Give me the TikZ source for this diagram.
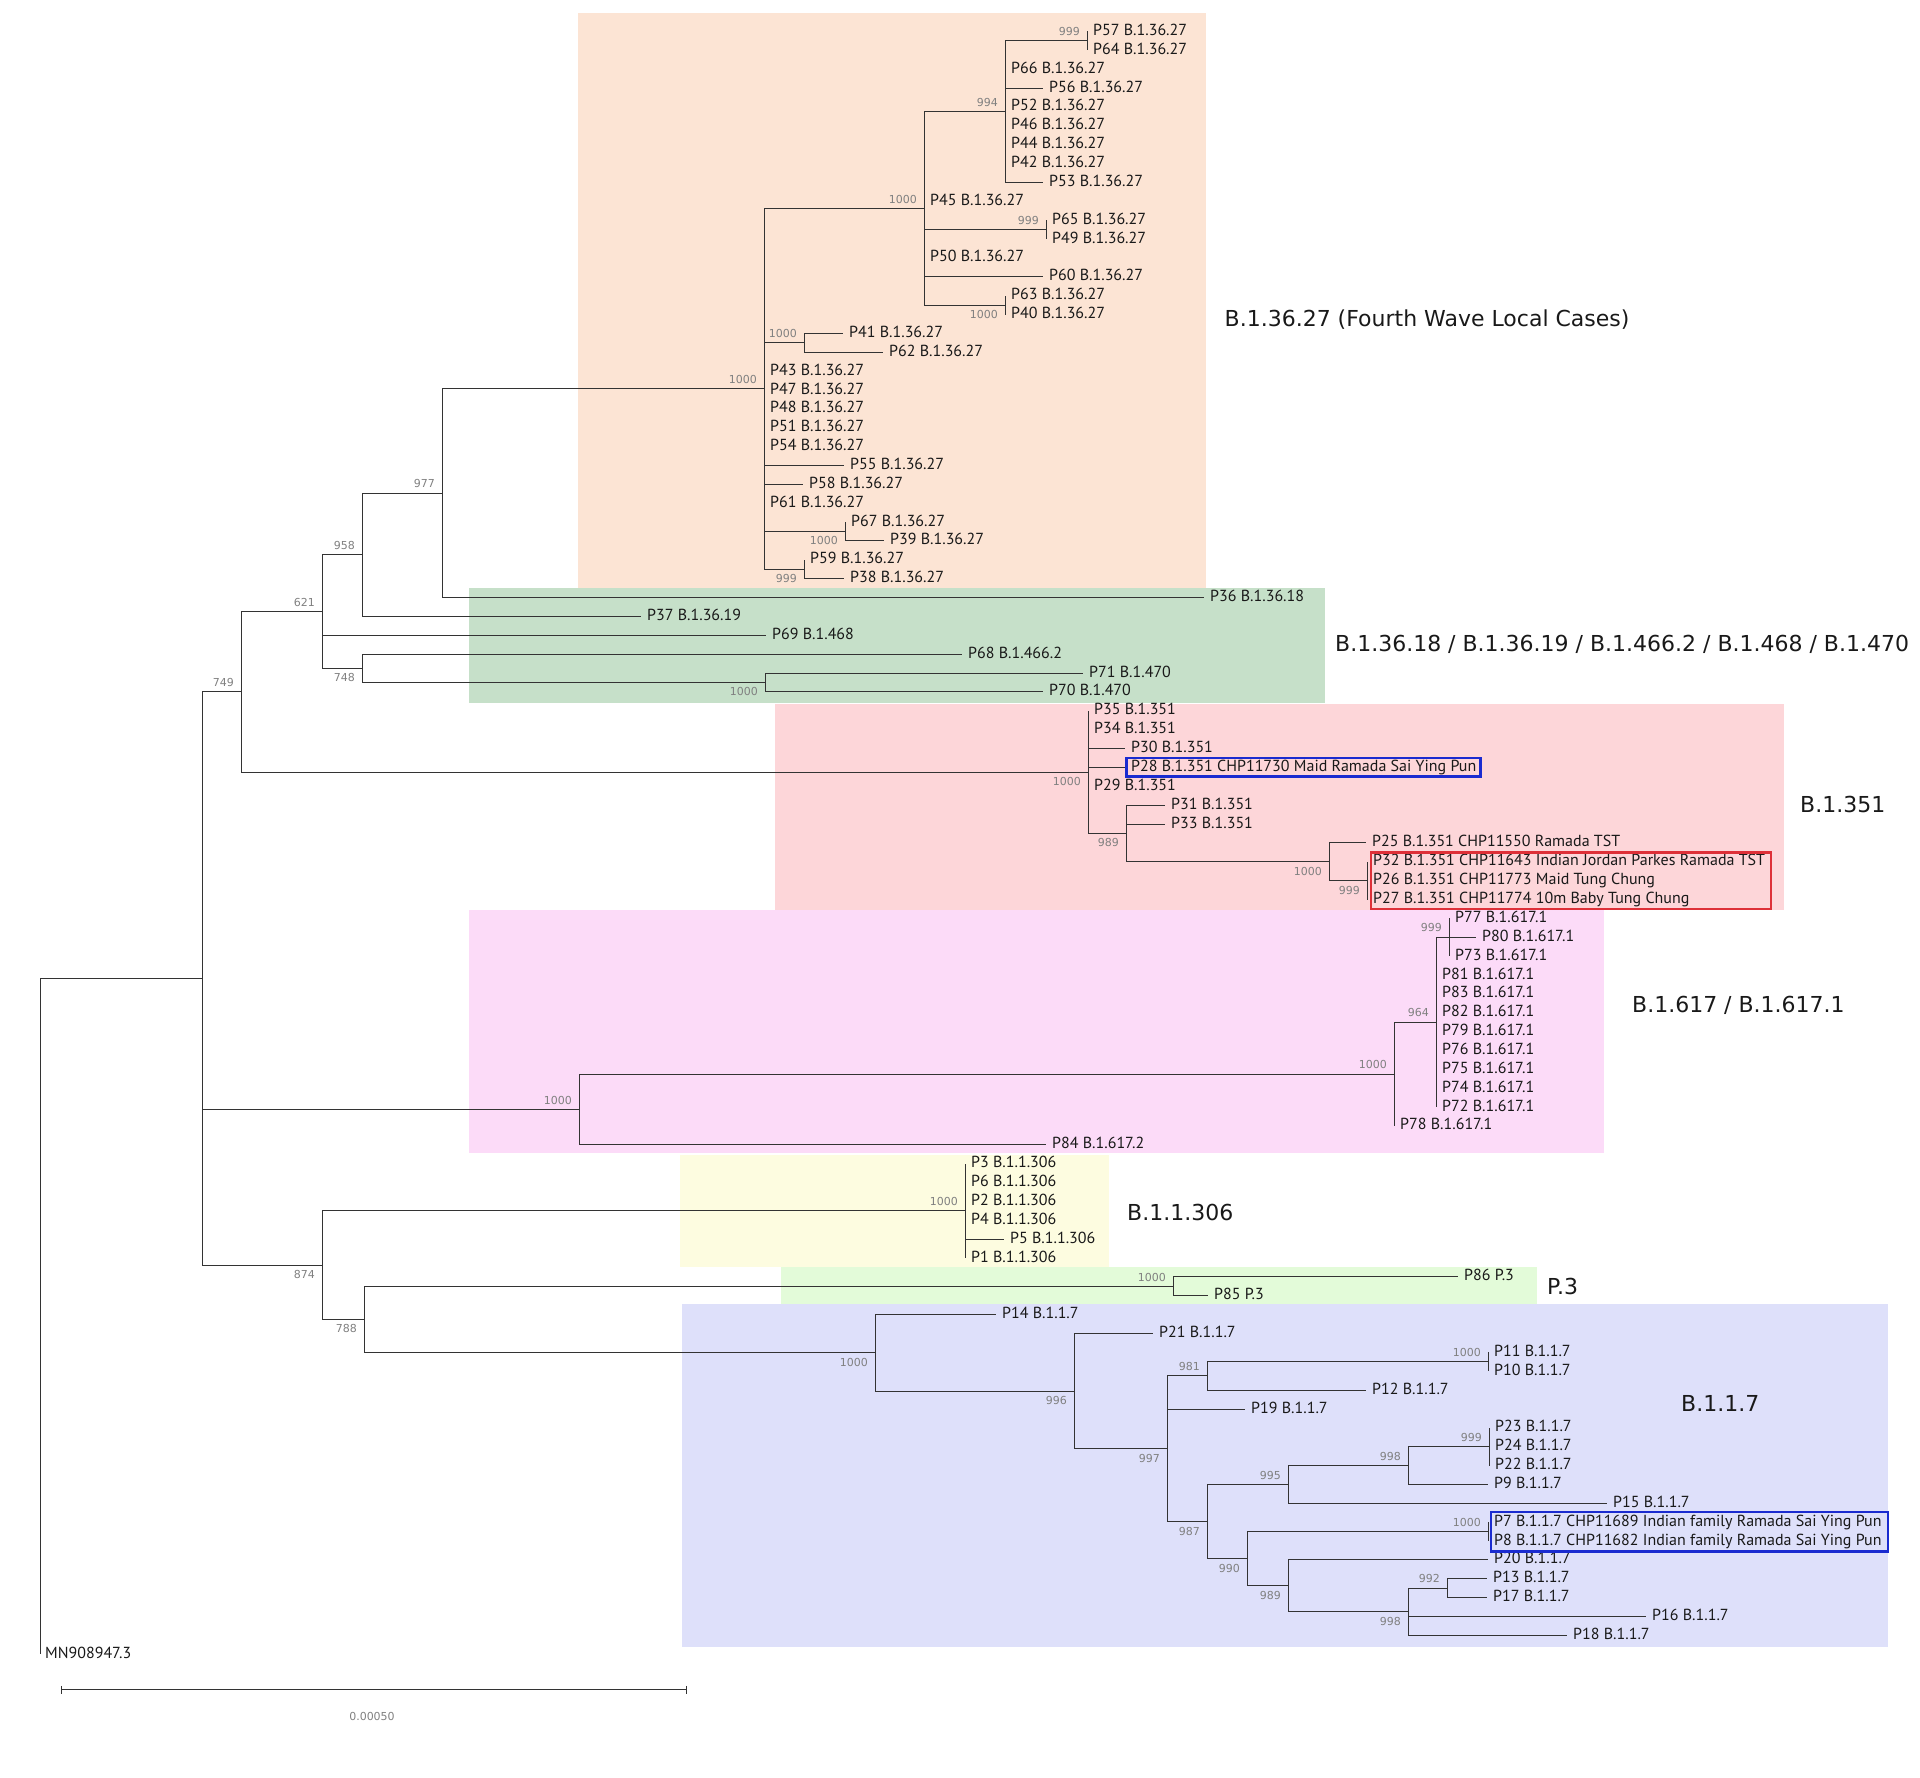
\documentclass[tikz,border=0pt]{standalone}
\usepackage{fontspec}
\setmainfont{PT Sans}
\newfontfamily\labfont{DejaVu Sans}

\definecolor{clorange}{HTML}{FCE4D4}
\definecolor{clgreen}{HTML}{C6E0C9}
\definecolor{clred}{HTML}{FDD6D9}
\definecolor{clpink}{HTML}{FCDBF8}
\definecolor{clyellow}{HTML}{FDFCE0}
\definecolor{cllime}{HTML}{E3FBD9}
\definecolor{clblue}{HTML}{DEE0FA}
\definecolor{boxblue}{HTML}{1A2BD0}
\definecolor{boxred}{HTML}{DE3038}

\tikzset{
	branch/.style={draw=black!80, line width=1pt},
	leaf/.style={anchor=west, inner xsep=6pt, inner ysep=1.5pt, text height=11.5pt, text depth=3.5pt,
		font=\fontsize{16}{19}\selectfont, text=black!90},
	bsup/.style={anchor=south east, inner sep=0pt, xshift=-7pt, yshift=5pt,
		font=\labfont\fontsize{11}{13}\selectfont, text=black!50},
	bsdown/.style={anchor=north east, inner sep=0pt, xshift=-7pt, yshift=-5pt,
		font=\labfont\fontsize{11}{13}\selectfont, text=black!50},
	group/.style={anchor=west, inner sep=0pt, text height=16pt, text depth=0pt,
		font=\labfont\fontsize{22}{26}\selectfont, text=black!90},
	hlbox/.style={line width=2.4pt},
}

\begin{document}
\begin{tikzpicture}[x=1pt, y=-18.87pt]
		\useasboundingbox (0,-0.669) rectangle (1920,93.555);
		% lineage backgrounds
		\fill[clorange] (578,0) rectangle (1206,30.5);
		\fill[clgreen] (469,30.5) rectangle (1325,36.6);
		\fill[clred] (775,36.62) rectangle (1784,47.55);
		\fill[clpink] (469,47.58) rectangle (1604,60.45);
		\fill[clyellow] (680,60.52) rectangle (1109,66.45);
		\fill[cllime] (781,66.47) rectangle (1537,68.43);
		\fill[clblue] (682,68.45) rectangle (1888,86.6);

		% tips
		\node[leaf] (p57) at (1087,1) {P57 B.1.36.27};
		\node[leaf] (p64) at (1087,2) {P64 B.1.36.27};
		\node[leaf] (p66) at (1005,3) {P66 B.1.36.27};
		\node[leaf] (p56) at (1043,4) {P56 B.1.36.27};
		\foreach \p [count=\r from 5] in {52,46,44,42}
			\node[leaf] (p\p) at (1005,\r) {P\p\ B.1.36.27};
		\node[leaf] (p53) at (1043,9) {P53 B.1.36.27};
		\node[leaf] (p45) at (924,10) {P45 B.1.36.27};
		\node[leaf] (p65) at (1046,11) {P65 B.1.36.27};
		\node[leaf] (p49) at (1046,12) {P49 B.1.36.27};
		\node[leaf] (p50) at (924,13) {P50 B.1.36.27};
		\node[leaf] (p60) at (1043,14) {P60 B.1.36.27};
		\node[leaf] (p63) at (1005,15) {P63 B.1.36.27};
		\node[leaf] (p40) at (1005,16) {P40 B.1.36.27};
		\node[leaf] (p41) at (843,17) {P41 B.1.36.27};
		\node[leaf] (p62) at (883,18) {P62 B.1.36.27};
		\foreach \p [count=\r from 19] in {43,47,48,51,54}
			\node[leaf] (p\p) at (764,\r) {P\p\ B.1.36.27};
		\node[leaf] (p55) at (844,24) {P55 B.1.36.27};
		\node[leaf] (p58) at (803,25) {P58 B.1.36.27};
		\node[leaf] (p61) at (764,26) {P61 B.1.36.27};
		\node[leaf] (p67) at (845,27) {P67 B.1.36.27};
		\node[leaf] (p39) at (884,28) {P39 B.1.36.27};
		\node[leaf] (p59) at (804,29) {P59 B.1.36.27};
		\node[leaf] (p38) at (844,30) {P38 B.1.36.27};
		\node[leaf] (p36) at (1204,31) {P36 B.1.36.18};
		\node[leaf] (p37) at (641,32) {P37 B.1.36.19};
		\node[leaf] (p69) at (766,33) {P69 B.1.468};
		\node[leaf] (p68) at (962,34) {P68 B.1.466.2};
		\node[leaf] (p71) at (1083,35) {P71 B.1.470};
		\node[leaf] (p70) at (1043,36) {P70 B.1.470};
		\node[leaf] (p35) at (1088,37) {P35 B.1.351};
		\node[leaf] (p34) at (1088,38) {P34 B.1.351};
		\node[leaf] (p30) at (1125,39) {P30 B.1.351};
		\node[leaf] (p28) at (1125,40) {P28 B.1.351 CHP11730 Maid Ramada Sai Ying Pun};
		\node[leaf] (p29) at (1088,41) {P29 B.1.351};
		\node[leaf] (p31) at (1165,42) {P31 B.1.351};
		\node[leaf] (p33) at (1165,43) {P33 B.1.351};
		\node[leaf] (p25) at (1366,44) {P25 B.1.351 CHP11550 Ramada TST};
		\node[leaf] (p32) at (1367,45) {P32 B.1.351 CHP11643 Indian Jordan Parkes Ramada TST};
		\node[leaf] (p26) at (1367,46) {P26 B.1.351 CHP11773 Maid Tung Chung};
		\node[leaf] (p27) at (1367,47) {P27 B.1.351 CHP11774 10m Baby Tung Chung};
		\node[leaf] (p77) at (1449,48) {P77 B.1.617.1};
		\node[leaf] (p80) at (1476,49) {P80 B.1.617.1};
		\node[leaf] (p73) at (1449,50) {P73 B.1.617.1};
		\foreach \p [count=\r from 51] in {81,83,82,79,76,75,74,72}
			\node[leaf] (p\p) at (1436,\r) {P\p\ B.1.617.1};
		\node[leaf] (p78) at (1394,59) {P78 B.1.617.1};
		\node[leaf] (p84) at (1046,60) {P84 B.1.617.2};
		\foreach \p [count=\r from 61] in {3,6,2,4}
			\node[leaf] (p\p) at (965,\r) {P\p\ B.1.1.306};
		\node[leaf] (p5) at (1004,65) {P5 B.1.1.306};
		\node[leaf] (p1) at (965,66) {P1 B.1.1.306};
		\node[leaf] (p86) at (1458,67) {P86 P.3};
		\node[leaf] (p85) at (1208,68) {P85 P.3};
		\node[leaf] (p14) at (996,69) {P14 B.1.1.7};
		\node[leaf] (p21) at (1153,70) {P21 B.1.1.7};
		\node[leaf] (p11) at (1488,71) {P11 B.1.1.7};
		\node[leaf] (p10) at (1488,72) {P10 B.1.1.7};
		\node[leaf] (p12) at (1366,73) {P12 B.1.1.7};
		\node[leaf] (p19) at (1245,74) {P19 B.1.1.7};
		\node[leaf] (p23) at (1489,75) {P23 B.1.1.7};
		\node[leaf] (p24) at (1489,76) {P24 B.1.1.7};
		\node[leaf] (p22) at (1489,77) {P22 B.1.1.7};
		\node[leaf] (p9) at (1488,78) {P9 B.1.1.7};
		\node[leaf] (p15) at (1607,79) {P15 B.1.1.7};
		\node[leaf] (p7) at (1488,80) {P7 B.1.1.7 CHP11689 Indian family Ramada Sai Ying Pun};
		\node[leaf] (p8) at (1488,81) {P8 B.1.1.7 CHP11682 Indian family Ramada Sai Ying Pun};
		\node[leaf] (p20) at (1488,82) {P20 B.1.1.7};
		\node[leaf] (p13) at (1487,83) {P13 B.1.1.7};
		\node[leaf] (p17) at (1487,84) {P17 B.1.1.7};
		\node[leaf] (p16) at (1646,85) {P16 B.1.1.7};
		\node[leaf] (p18) at (1567,86) {P18 B.1.1.7};
		\node[leaf, inner xsep=5pt] (mn) at (40,87) {MN908947.3};

		% inner nodes
		\coordinate (n999b) at (1087,1.5);
		\coordinate (n994) at (1005,5.25);
		\coordinate (n999c) at (1046,11.5);
		\coordinate (n1000e) at (1005,15.5);
		\coordinate (n1000b) at (924,10.375);
		\coordinate (n1000c) at (804,17.5);
		\coordinate (n1000d) at (845,27.5);
		\coordinate (n999a) at (804,29.5);
		\coordinate (n1000a) at (764,19.9375);
		\coordinate (n977) at (442,25.469);
		\coordinate (n958) at (362,28.734);
		\coordinate (n1000f) at (765,35.5);
		\coordinate (n748) at (362,34.75);
		\coordinate (n621) at (322,31.742);
		\coordinate (n999d) at (1367,46);
		\coordinate (n1000h) at (1329,45);
		\coordinate (n989) at (1126,43.5);
		\coordinate (n1000g) at (1088,40.25);
		\coordinate (n749) at (241,35.996);
		\coordinate (n999e) at (1449,49);
		\coordinate (n964) at (1436,53.5);
		\coordinate (n1000j) at (1394,56.25);
		\coordinate (n1000i) at (579,58.125);
		\coordinate (n1000k) at (965,63.5);
		\coordinate (n1000l) at (1173,67.5);
		\coordinate (n1000n) at (1488,71.5);
		\coordinate (n981) at (1207,72.25);
		\coordinate (n999f) at (1489,76);
		\coordinate (n998a) at (1408,77);
		\coordinate (n995) at (1288,78);
		\coordinate (n1000o) at (1488,80.5);
		\coordinate (n992) at (1447,83.5);
		\coordinate (n998b) at (1408,84.75);
		\coordinate (n989b) at (1288,83.375);
		\coordinate (n990) at (1247,81.9375);
		\coordinate (n987) at (1207,79.969);
		\coordinate (n997) at (1167,76.109);
		\coordinate (n996) at (1074,73.055);
		\coordinate (n1000m) at (875,71.027);
		\coordinate (n788) at (364,69.26);
		\coordinate (n874) at (322,66.38);
		\coordinate (nA) at (202,51.188);
		\coordinate (root) at (40,69.09);

		% branches
		\foreach \a/\b in {root/nA, root/mn.west,
			nA/n749, nA/n1000i, nA/n874,
			n749/n621, n749/n1000g,
			n621/n958, n621/p69.west, n621/n748,
			n958/n977, n958/p37.west,
			n977/n1000a, n977/p36.west,
			n1000a/n1000b, n1000a/n1000c, n1000a/p43.west, n1000a/p55.west, n1000a/p58.west,
			n1000a/p61.west, n1000a/n1000d, n1000a/n999a,
			n1000b/n994, n1000b/p45.west, n1000b/n999c, n1000b/p50.west, n1000b/p60.west, n1000b/n1000e,
			n994/n999b, n994/p66.west, n994/p56.west, n994/p53.west,
			n999b/p57.west, n999b/p64.west,
			n999c/p65.west, n999c/p49.west,
			n1000e/p63.west, n1000e/p40.west,
			n1000c/p41.west, n1000c/p62.west,
			n1000d/p67.west, n1000d/p39.west,
			n999a/p59.west, n999a/p38.west,
			n748/p68.west, n748/n1000f,
			n1000f/p71.west, n1000f/p70.west,
			n1000g/p35.west, n1000g/p30.west, n1000g/p28.west, n1000g/n989,
			n989/p31.west, n989/p33.west, n989/n1000h,
			n1000h/p25.west, n1000h/n999d,
			n999d/p32.west, n999d/p27.west,
			n1000i/n1000j, n1000i/p84.west,
			n1000j/n964, n1000j/p78.west,
			n964/n999e, n964/p72.west,
			n999e/p77.west, n999e/p80.west, n999e/p73.west,
			n874/n1000k, n874/n788,
			n1000k/p3.west, n1000k/p5.west, n1000k/p1.west,
			n788/n1000l, n788/n1000m,
			n1000l/p86.west, n1000l/p85.west,
			n1000m/p14.west, n1000m/n996,
			n996/p21.west, n996/n997,
			n997/n981, n997/p19.west, n997/n987,
			n981/n1000n, n981/p12.west,
			n1000n/p11.west, n1000n/p10.west,
			n987/n995, n987/n990,
			n995/n998a, n995/p15.west,
			n998a/n999f, n998a/p9.west,
			n999f/p23.west, n999f/p22.west,
			n990/n1000o, n990/n989b,
			n1000o/p7.west, n1000o/p8.west,
			n989b/p20.west, n989b/n998b,
			n998b/n992, n998b/p16.west, n998b/p18.west,
			n992/p13.west, n992/p17.west}
			\draw[branch] (\a) |- (\b);

		% bootstrap values
		\foreach \n/\v in {n999b/999, n994/994, n1000b/1000, n999c/999, n1000c/1000, n1000a/1000,
			n977/977, n958/958, n621/621, n749/749, n1000i/1000, n1000j/1000, n964/964, n999e/999,
			n1000k/1000, n1000l/1000, n981/981, n1000n/1000, n999f/999, n998a/998, n995/995,
			n1000o/1000, n992/992}
			\node[bsup] (bs\n) at (\n) {\v};
		\foreach \n/\v in {n1000e/1000, n1000d/1000, n999a/999, n748/748, n1000f/1000, n1000g/1000,
			n989/989, n1000h/1000, n999d/999, n874/874, n788/788, n1000m/1000, n996/996, n997/997,
			n987/987, n990/990, n989b/989, n998b/998}
			\node[bsdown] (bs\n) at (\n) {\v};

		% highlighted samples
		\draw[boxblue, hlbox] ([xshift=1.5pt]p28.south west) rectangle ([xshift=-2pt]p28.north east);
		\draw[boxred, hlbox] ([xshift=4pt]p32.north west) rectangle (p27.south -| p32.east);
		\draw[boxblue, hlbox] ([xshift=3pt,yshift=1pt]p7.north west) rectangle ([yshift=-1pt]p8.south east);

		% lineage labels
		\node[group] (g27) at (1224.5,16.2) {B.1.36.27 (Fourth Wave Local Cases)};
		\node[group] (g18) at (1335,33.41) {B.1.36.18 / B.1.36.19 / B.1.466.2 / B.1.468 / B.1.470};
		\node[group] (g351) at (1800,41.96) {B.1.351};
		\node[group] (g617) at (1632,52.54) {B.1.617 / B.1.617.1};
		\node[group] (g306) at (1127,63.56) {B.1.1.306};
		\node[group] (gp3) at (1547,67.53) {P.3};
		\node[group] (g117) at (1681,73.73) {B.1.1.7};

		% scale bar
		\coordinate (sbl) at (61,88.89);
		\coordinate (sbr) at (686,88.89);
		\draw[branch] (sbl) -- (sbr);
		\draw[branch] ([yshift=4pt]sbl) -- ([yshift=-4pt]sbl);
		\draw[branch] ([yshift=4pt]sbr) -- ([yshift=-4pt]sbr);
		\node[font=\labfont\fontsize{11}{13}\selectfont, text=black!50] (sblab) at (372,90.32) {0.00050};
	\end{tikzpicture}
\end{document}
